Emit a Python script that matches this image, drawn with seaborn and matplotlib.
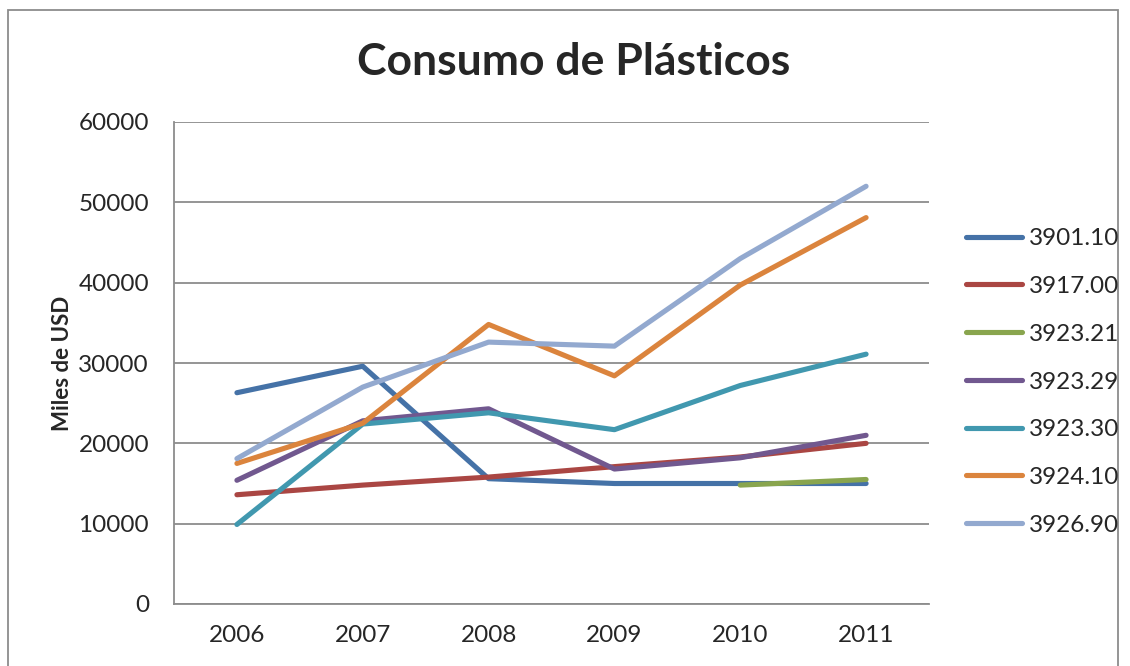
import pandas as pd
import matplotlib.pyplot as plt
import seaborn as sns
from matplotlib.patches import Rectangle
import numpy as np

# datos (miles de USD)
anios = [2006, 2007, 2008, 2009, 2010, 2011]
s3901_10 = [26300, 29600, 15600, 15000, 15000, 15000]
s3917_00 = [13600, 14800, 15800, 17100, 18300, 20000]
s3923_21 = [np.nan, np.nan, np.nan, np.nan, 14800, 15500]
s3923_29 = [15400, 22800, 24300, 16800, 18200, 21000]
s3923_30 = [9900, 22400, 23800, 21700, 27200, 31100]
s3924_10 = [17500, 22500, 34800, 28400, 39700, 48100]
s3926_90 = [18100, 27000, 32600, 32100, 43000, 52000]

series = ['3901.10', '3917.00', '3923.21', '3923.29', '3923.30', '3924.10', '3926.90']
valores = [s3901_10, s3917_00, s3923_21, s3923_29, s3923_30, s3924_10, s3926_90]
colores = ['#4572A7', '#AA4643', '#89A54E', '#71588F', '#4198AF', '#DB843D', '#93A9CF']

filas = []
for nombre, vals in zip(series, valores):
    for a, v in zip(anios, vals):
        filas.append({'anio': a, 'valor': v, 'codigo': nombre})
df = pd.DataFrame(filas).dropna()

sns.set_style('white')
plt.rcParams['font.family'] = ['Lato', 'DejaVu Sans']

fig = plt.figure(figsize=(11.3, 6.66), dpi=100)
ax = fig.add_axes([174 / 1130, 1 - 604 / 666, (929 - 174) / 1130, (604 - 122) / 666])

sns.lineplot(data=df, x='anio', y='valor', hue='codigo', hue_order=series,
             palette=colores, linewidth=3.7, ax=ax, legend=True,
             solid_capstyle='round')

ax.set_xlim(2005.5, 2011.5)
ax.set_ylim(0, 60000)
ax.set_xticks(anios)
ax.set_xticklabels([str(a) for a in anios])
ax.set_yticks(range(0, 60001, 10000))
ax.yaxis.grid(True, color='#8c8c8c', linewidth=1.3)
ax.xaxis.grid(False)
for lado in ['top', 'right']:
    ax.spines[lado].set_visible(False)
for lado in ['left', 'bottom']:
    ax.spines[lado].set_color('#8c8c8c')
    ax.spines[lado].set_linewidth(1.3)
ax.tick_params(axis='both', length=0, labelsize=17.5)
ax.tick_params(axis='x', pad=15)
ax.tick_params(axis='y', pad=18)
ax.set_xlabel('')
ax.set_ylabel('Miles de USD', fontsize=16, fontweight='bold', labelpad=4)

handles, labels = ax.get_legend_handles_labels()
ax.get_legend().remove()
fig.legend(handles, labels, loc='center left', bbox_to_anchor=(944 / 1130, 1 - 382 / 666),
           frameon=False, fontsize=17.5, handlelength=2.3, handletextpad=0.3,
           labelspacing=1.1)

fig.text(574 / 1130, 1 - 62 / 666, 'Consumo de Plásticos', ha='center', va='center',
         fontsize=32, fontweight='bold')

# marco exterior del grafico
fig.patches.append(Rectangle((8 / 1130, -0.05), (1118 - 8) / 1130, 1.05 - 10 / 666,
                             transform=fig.transFigure, fill=False,
                             edgecolor='#8c8c8c', linewidth=1.3))

fig.savefig('out.png', dpi=100)
